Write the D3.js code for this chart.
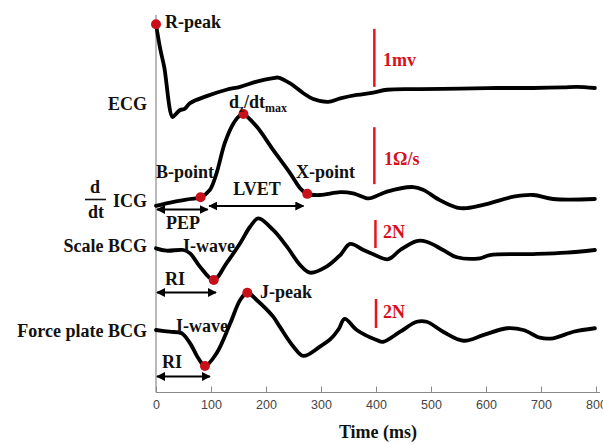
<!DOCTYPE html>
<html>
<head>
<meta charset="utf-8">
<script src="https://cdn.jsdelivr.net/npm/d3@7"></script>
<style>
  body { margin: 0; background: #fff; }
  svg { display: block; }
  .lbl { font-family: 'Liberation Serif', 'Times New Roman', serif; font-weight: bold; fill: #111; }
  .red { fill: #d8101c; }
</style>
</head>
<body>
<div id="chart"></div>
<script>
// time in ms, amplitude in each signal's own unit (mV, Ω/s, N)
const ecgTime = [0, 8, 15, 30, 36, 44, 52, 62, 92, 128, 153, 183, 213, 222, 244, 268, 286, 313, 335, 365, 395, 420, 480, 553, 620, 686, 740, 765, 798]
const ecgValue = [1.1, 0.66, 0.36, -0.5, -0.45, -0.38, -0.36, -0.26, -0.14, -0.03, 0.02, 0.11, 0.17, 0.18, 0.08, -0.09, -0.19, -0.24, -0.18, -0.12, -0.08, -0.03, -0.02, -0.01, 0, 0, 0.01, 0.02, 0]

const icgTime = [0, 32, 62, 81, 98, 110, 125, 141, 153, 159, 183, 213, 244, 262, 275, 298, 335, 358, 386, 395, 420, 468, 486, 516, 547, 565, 601, 650, 686, 722, 798]
const icgValue = [-0.12, -0.05, 0, 0.03, 0.16, 0.45, 0.98, 1.33, 1.47, 1.49, 1.27, 0.86, 0.45, 0.19, 0.09, 0.07, 0.12, 0.1, 0.01, 0.03, 0.13, 0.21, 0.16, -0.02, -0.15, -0.16, -0.09, 0.04, 0.07, 0, 0]

const scaleTime = [0, 19, 50, 62, 80, 105, 128, 153, 171, 186, 213, 238, 262, 280, 310, 335, 353, 377, 395, 422, 444, 474, 492, 522, 547, 589, 607, 686, 746, 798]
const scaleValue = [0.12, -0.05, 0, -0.24, -1.19, -2.14, -0.95, 0.48, 1.66, 2.26, 1.43, 0.24, -1.07, -1.62, -1.19, -0.36, 0.43, 0, -0.3, -0.66, 0, 0.64, 0.59, 0, -0.52, -0.59, -0.36, -0.29, -0.19, 0]

const forceTime = [0, 25, 47, 62, 77, 89, 110, 135, 153, 166, 183, 213, 225, 250, 268, 298, 318, 332, 343, 365, 401, 413, 444, 474, 492, 522, 559, 596, 638, 668, 698, 722, 759, 798]
const forceValue = [0, -0.12, -0.23, -0.92, -1.95, -2.48, -1.61, 0.46, 2.07, 2.57, 2.07, 0.92, 0.23, -1.15, -1.79, -1.15, -0.6, 0.05, 0.76, 0, -0.69, -0.81, -0.12, 0.57, 0.57, -0.12, -0.74, -0.34, 0.12, 0, -0.53, -0.57, -0.12, 0.12]

const xTicks = [0, 100, 200, 300, 400, 500, 600, 700, 800]

const width = 603
const height = 444

const svg = d3
  .select('#chart')
  .append('svg')
  .attr('width', width)
  .attr('height', height)

const x = d3.scaleLinear().domain([0, 800]).range([156, 596])

// one vertical scale per trace: baseline pixel and pixels per unit
function traceScale(base, ppu) {
  return d3.scaleLinear().domain([0, 1]).range([base, base - ppu])
}

const traces = [
  { name: 'ecg', t: ecgTime, v: ecgValue, y: traceScale(88, 58) },
  { name: 'icg', t: icgTime, v: icgValue, y: traceScale(199, 57) },
  { name: 'scale', t: scaleTime, v: scaleValue, y: traceScale(250, 14) },
  { name: 'force', t: forceTime, v: forceValue, y: traceScale(330, 14.5) }
]
const byName = {}
traces.forEach(d => (byName[d.name] = d))

// axes
svg
  .append('line')
  .attr('x1', x(0))
  .attr('x2', x(0))
  .attr('y1', 15)
  .attr('y2', 392.5)
  .attr('stroke', '#8a8a8a')
  .attr('stroke-width', 1.2)

const xAxis = d3
  .axisBottom(x)
  .tickValues(xTicks)
  .tickSizeInner(-6)
  .tickSizeOuter(0)
  .tickPadding(5)

const gx = svg
  .append('g')
  .attr('transform', 'translate(0,392.5)')
  .call(xAxis)
gx.select('.domain').attr('stroke', '#8a8a8a').attr('stroke-width', 1.2).attr('d', `M${x(0)},0H600`)
gx.selectAll('.tick line').attr('stroke', '#8a8a8a')
gx.selectAll('.tick text')
  .attr('fill', '#444')
  .style('font-family', 'Liberation Sans, Arial, sans-serif')
  .style('font-size', '12.5px')
  .attr('dy', '0.95em')

svg
  .append('text')
  .attr('class', 'lbl')
  .attr('x', 378)
  .attr('y', 438)
  .attr('text-anchor', 'middle')
  .style('font-size', '18px')
  .text('Time (ms)')

// traces
traces.forEach(tr => {
  const line = d3
    .line()
    .x((d, i) => x(tr.t[i]))
    .y(d => tr.y(d))
    .curve(d3.curveCatmullRom.alpha(0.5))
  svg
    .append('path')
    .attr('class', 'trace-' + tr.name)
    .attr('d', line(tr.v))
    .attr('fill', 'none')
    .attr('stroke', '#000')
    .attr('stroke-width', 3.8)
    .attr('stroke-linejoin', 'round')
    .attr('stroke-linecap', 'round')
})

// red scale bars
const bars = [
  { tr: 'ecg', ms: 397, from: 0.02, size: 1, label: '1mv', lx: 383, ly: 66 },
  { tr: 'icg', ms: 397, from: 0.26, size: 1, label: '1Ω/s', lx: 384, ly: 165 },
  { tr: 'scale', ms: 399, from: 0.14, size: 2, label: '2N', lx: 383, ly: 238 },
  { tr: 'force', ms: 400, from: 0.14, size: 2, label: '2N', lx: 383, ly: 318 }
]
bars.forEach(b => {
  const y = byName[b.tr].y
  svg
    .append('line')
    .attr('x1', x(b.ms))
    .attr('x2', x(b.ms))
    .attr('y1', y(b.from))
    .attr('y2', y(b.from + b.size))
    .attr('stroke', '#e8141c')
    .attr('stroke-width', 2.5)
  svg
    .append('text')
    .attr('class', 'lbl red')
    .attr('x', b.lx)
    .attr('y', b.ly)
    .style('font-size', '18px')
    .text(b.label)
})

// arrows
const defs = svg.append('defs')
defs
  .append('marker')
  .attr('id', 'head')
  .attr('viewBox', '0 0 10 10')
  .attr('refX', 9)
  .attr('refY', 5)
  .attr('markerWidth', 9)
  .attr('markerHeight', 9)
  .attr('markerUnits', 'userSpaceOnUse')
  .attr('orient', 'auto-start-reverse')
  .append('path')
  .attr('d', 'M0,0L10,5L0,10z')
  .attr('fill', '#000')

const arrows = [
  { from: 0, to: 94, y: 209.5 },
  { from: 95, to: 268, y: 206 },
  { from: 0, to: 109, y: 292.5 },
  { from: 0, to: 98, y: 376.5 }
]
svg
  .selectAll('.arrow')
  .data(arrows)
  .enter()
  .append('line')
  .attr('class', 'arrow')
  .attr('x1', d => x(d.from) + 1)
  .attr('x2', d => x(d.to))
  .attr('y1', d => d.y)
  .attr('y2', d => d.y)
  .attr('stroke', '#000')
  .attr('stroke-width', 2.2)
  .attr('marker-start', 'url(#head)')
  .attr('marker-end', 'url(#head)')

// red dots on characteristic points
const points = [
  { tr: 'ecg', ms: 0 },
  { tr: 'icg', ms: 81 },
  { tr: 'icg', ms: 159 },
  { tr: 'icg', ms: 275 },
  { tr: 'scale', ms: 105 },
  { tr: 'force', ms: 89 },
  { tr: 'force', ms: 166 }
]
svg
  .selectAll('.pt')
  .data(points)
  .enter()
  .append('circle')
  .attr('class', 'pt')
  .attr('cx', d => x(d.ms))
  .attr('cy', d => byName[d.tr].y(byName[d.tr].v[byName[d.tr].t.indexOf(d.ms)]))
  .attr('r', 5)
  .attr('fill', '#c8101a')

// text labels
function label(txt, px, py, size, anchor) {
  return svg
    .append('text')
    .attr('class', 'lbl')
    .attr('x', px)
    .attr('y', py)
    .attr('text-anchor', anchor || 'start')
    .style('font-size', size + 'px')
    .text(txt)
}

label('R-peak', 165, 28, 18)
label('ECG', 147, 110, 18, 'end')
label('B-point', 156, 178, 18)
label('X-point', 296, 178, 18)
label('LVET', 257, 195, 18, 'middle')
label('PEP', 183, 229, 18, 'middle')
label('ICG', 147, 207, 18, 'end')
label('Scale BCG', 147, 252, 18, 'end')
label('I-wave', 183, 252, 18)
label('RI', 175, 285, 18, 'middle')
label('J-peak', 260, 298, 18)
label('Force plate BCG', 147, 337, 18, 'end')
label('I-wave', 176, 332, 18)
label('RI', 172, 368, 18, 'middle')

// d/dt fraction
label('d', 95, 193, 18, 'middle')
label('dt', 96, 218, 18, 'middle')
svg
  .append('line')
  .attr('x1', 85)
  .attr('x2', 106)
  .attr('y1', 199.5)
  .attr('y2', 199.5)
  .attr('stroke', '#111')
  .attr('stroke-width', 1.6)

// dz/dt max
const dz = svg
  .append('text')
  .attr('class', 'lbl')
  .attr('x', 229)
  .attr('y', 108)
  .style('font-size', '18px')
dz.append('tspan').text('d')
dz.append('tspan').attr('dy', 4).style('font-size', '11px').text('z')
dz.append('tspan').attr('dy', -4).text('/dt')
dz.append('tspan').attr('dy', 4).style('font-size', '12px').text('max')
</script>
</body>
</html>
